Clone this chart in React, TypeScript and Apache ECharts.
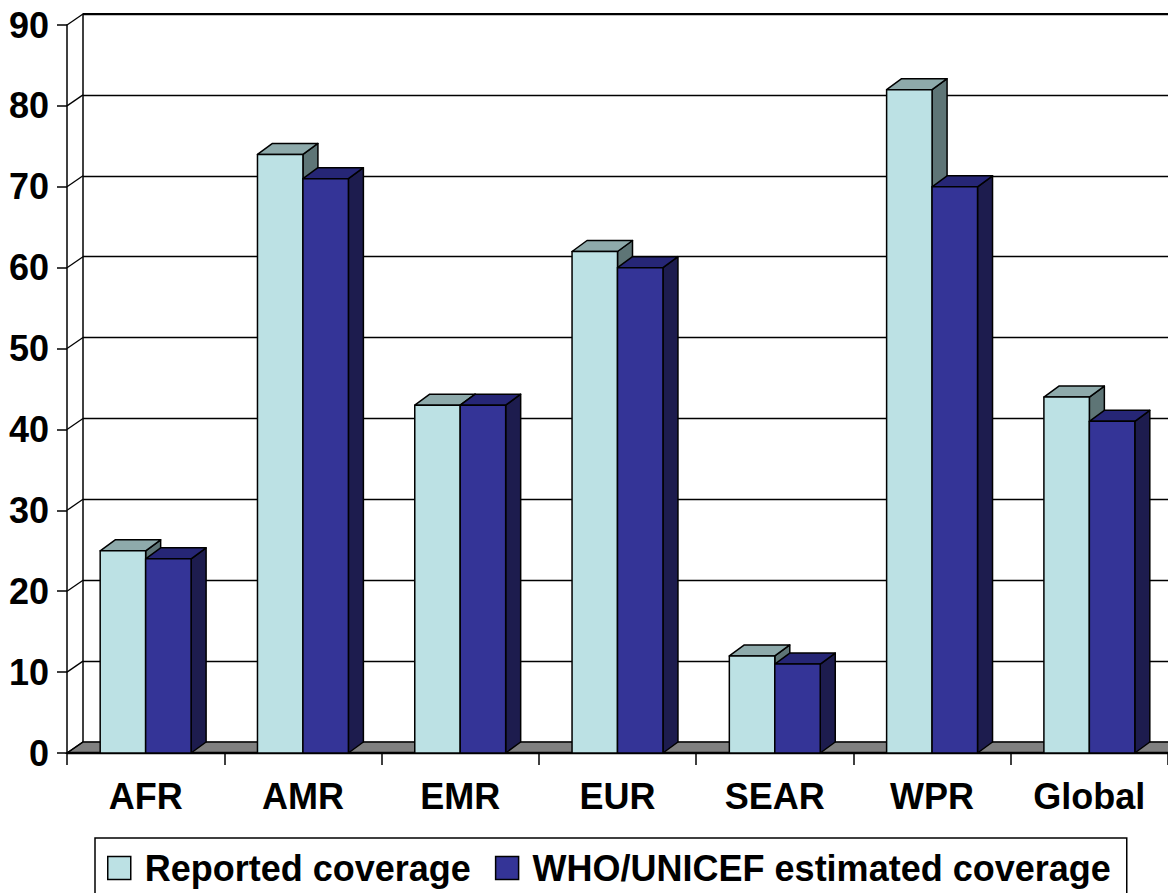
import React, { useEffect, useRef } from "react";
import * as echarts from "echarts";

const categories = ["AFR", "AMR", "EMR", "EUR", "SEAR", "WPR", "Global"];
const reportedCoverage = [25, 74, 43, 62, 12, 82, 44];
const estimatedCoverage = [24, 71, 43, 60, 11, 70, 41];
const seriesNames = ["Reported coverage", "WHO/UNICEF estimated coverage"];
const yMin = 0;
const yMax = 90;
const yStep = 10;

const FONT = "'Liberation Sans', Arial, sans-serif";
const WALL_DX = 16;
const WALL_DY = -11;
const BAR_DX = 15;
const BAR_DY = -11;
const BAR_FRAC = 0.289;

const palettes = [
  { front: "#BCE1E4", top: "#8EAAAB", side: "#5E7576" },
  { front: "#343497", top: "#262676", side: "#1D1C4E" },
];

export default function App() {
  const ref = useRef<HTMLDivElement>(null);

  useEffect(() => {
    if (!ref.current) return;
    const chart = echarts.init(ref.current, null, { renderer: "svg" });

    const yTicks: number[] = [];
    for (let v = yMin; v <= yMax; v += yStep) yTicks.push(v);

    const barRender = (s: number) => (params: any, api: any) => {
      const i = api.value(0);
      const v = api.value(1);
      const [cx, y0] = api.coord([i, 0]);
      const [, y1] = api.coord([i, v]);
      const cw = api.size([1, 0])[0];
      const bw = cw * BAR_FRAC;
      const x0 = s === 0 ? cx - bw : cx;
      const pal = palettes[s];
      const line = { stroke: "#000", lineWidth: 1.5, lineJoin: "round" };
      return {
        type: "group",
        children: [
          {
            type: "polygon",
            shape: {
              points: [
                [x0 + bw, y1],
                [x0 + bw + BAR_DX, y1 + BAR_DY],
                [x0 + bw + BAR_DX, y0 + BAR_DY],
                [x0 + bw, y0],
              ],
            },
            style: { fill: pal.side, ...line },
          },
          {
            type: "polygon",
            shape: {
              points: [
                [x0, y1],
                [x0 + BAR_DX, y1 + BAR_DY],
                [x0 + bw + BAR_DX, y1 + BAR_DY],
                [x0 + bw, y1],
              ],
            },
            style: { fill: pal.top, ...line },
          },
          {
            type: "rect",
            shape: { x: x0, y: y1, width: bw, height: y0 - y1 },
            style: { fill: pal.front, ...line },
          },
        ],
      };
    };

    const frameRender = (params: any, api: any) => {
      const cs = params.coordSys;
      const xl = cs.x;
      const xr = cs.x + cs.width;
      const [, y0] = api.coord([0, yMin]);
      const [, yt] = api.coord([0, yMax]);
      const children: any[] = [];
      children.push({
        type: "polygon",
        shape: {
          points: [
            [xl, y0],
            [xl + WALL_DX, y0 + WALL_DY],
            [xr + WALL_DX, y0 + WALL_DY],
            [xr, y0],
          ],
        },
        style: { fill: "#808080", stroke: "#000", lineWidth: 1.5 },
      });
      yTicks.forEach((t) => {
        const [, yy] = api.coord([0, t]);
        children.push({
          type: "line",
          shape: { x1: xl, y1: yy, x2: xl + WALL_DX, y2: yy + WALL_DY },
          style: { stroke: "#000", lineWidth: 1.3 },
        });
      });
      children.push({
        type: "line",
        shape: { x1: xl + WALL_DX, y1: yt + WALL_DY, x2: xr + WALL_DX, y2: yt + WALL_DY },
        style: { stroke: "#000", lineWidth: 2 },
      });
      children.push({
        type: "line",
        shape: { x1: xl, y1: y0, x2: xr, y2: y0 },
        style: { stroke: "#000", lineWidth: 2.5 },
      });
      return { type: "group", children };
    };

    const option: any = {
      animation: false,
      backgroundColor: "#fff",
      textStyle: { fontFamily: FONT },
      grid: [
        { left: 67, right: -3, top: 25, bottom: 140 },
        { left: 67 + WALL_DX, right: -3 - WALL_DX, top: 25 + WALL_DY, bottom: 140 - WALL_DY },
      ],
      legend: {
        data: seriesNames,
        left: 95,
        top: 838,
        orient: "horizontal",
        padding: [12, 16, 20, 12],
        itemGap: 24,
        itemWidth: 23,
        itemHeight: 23,
        borderColor: "#000",
        borderWidth: 1.5,
        selectedMode: false,
        icon: "rect",
        itemStyle: { borderColor: "#000", borderWidth: 1.5 },
        textStyle: {
          fontFamily: FONT,
          fontSize: 36,
          fontWeight: "bold",
          color: "#000",
          padding: [0, 0, 0, 9],
        },
      },
      xAxis: [
        {
          type: "category",
          gridIndex: 0,
          data: categories,
          axisLine: { show: true, lineStyle: { color: "#000", width: 2 } },
          axisTick: { show: true, length: 12, lineStyle: { color: "#000", width: 1.5 } },
          axisLabel: {
            margin: 25,
            fontFamily: FONT,
            fontSize: 36,
            fontWeight: "bold",
            color: "#000",
          },
          splitLine: { show: false },
        },
        { type: "value", gridIndex: 1, show: false },
      ],
      yAxis: [
        {
          type: "value",
          gridIndex: 0,
          min: yMin,
          max: yMax,
          interval: yStep,
          axisLine: { show: true, lineStyle: { color: "#000", width: 1.5 } },
          axisTick: { show: true, length: 10, lineStyle: { color: "#000", width: 1.5 } },
          axisLabel: {
            margin: 18,
            fontFamily: FONT,
            fontSize: 36,
            fontWeight: "bold",
            color: "#000",
          },
          splitLine: { show: false },
        },
        {
          type: "value",
          gridIndex: 1,
          min: yMin,
          max: yMax,
          interval: yStep,
          axisLine: { show: true, lineStyle: { color: "#000", width: 1.5 } },
          axisTick: { show: false },
          axisLabel: { show: false },
          splitLine: { show: true, lineStyle: { color: "#000", width: 1.3 } },
        },
      ],
      series: [
        {
          type: "custom",
          name: "frame",
          xAxisIndex: 0,
          yAxisIndex: 0,
          data: [[0, 0]],
          clip: false,
          silent: true,
          z: 2,
          renderItem: frameRender,
        },
        {
          type: "custom",
          name: seriesNames[0],
          xAxisIndex: 0,
          yAxisIndex: 0,
          data: reportedCoverage.map((v, i) => [i, v]),
          encode: { x: 0, y: 1 },
          clip: false,
          silent: true,
          z: 3,
          itemStyle: { color: palettes[0].front },
          renderItem: barRender(0),
        },
        {
          type: "custom",
          name: seriesNames[1],
          xAxisIndex: 0,
          yAxisIndex: 0,
          data: estimatedCoverage.map((v, i) => [i, v]),
          encode: { x: 0, y: 1 },
          clip: false,
          silent: true,
          z: 4,
          itemStyle: { color: palettes[1].front },
          renderItem: barRender(1),
        },
      ],
    };

    chart.setOption(option);
    return () => chart.dispose();
  }, []);

  return (
    <div
      ref={ref}
      style={{ position: "fixed", left: 0, top: 0, width: 1168, height: 893, background: "#fff" }}
    />
  );
}
